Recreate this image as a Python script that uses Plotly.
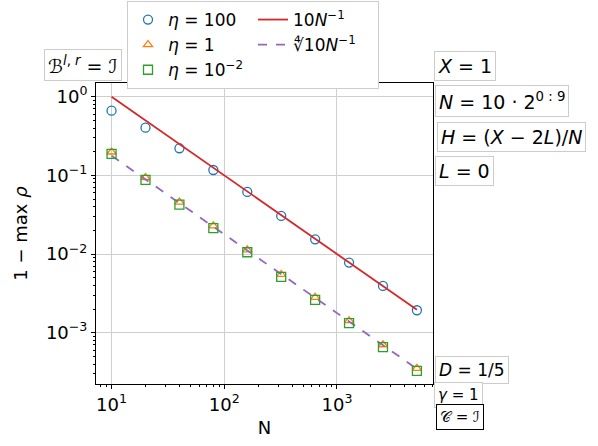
import plotly.graph_objects as go

N = [10, 20, 40, 80, 160, 320, 640, 1280, 2560, 5120]
eta100 = [0.664, 0.404, 0.221, 0.117, 0.0615, 0.0305, 0.0154, 0.00778, 0.00393, 0.00193]
eta1 = [0.198, 0.094, 0.0458, 0.0228, 0.0113, 0.0055, 0.00281, 0.00142, 0.000703, 0.000352]
eta001 = [0.187, 0.0875, 0.0424, 0.0213, 0.01054, 0.00512, 0.00261, 0.00132, 0.000654, 0.000327]
ref_a = [10.0 / n for n in N]
ref_b = [10 ** 0.25 / n for n in N]

xtick_vals = [10, 100, 1000]
xtick_text = ["10<sup>1</sup>", "10<sup>2</sup>", "10<sup>3</sup>"]
ytick_vals = [1, 0.1, 0.01, 0.001]
ytick_text = ["10<sup>0</sup>", "10<sup>−1</sup>", "10<sup>−2</sup>", "10<sup>−3</sup>"]

x_minor = [m * 10 ** k for k in range(0, 4) for m in range(2, 10)]
y_minor = [m * 10.0 ** k for k in range(-4, 1) for m in range(2, 10)]

FONT = "DejaVu Sans"
L, R, T, B = 96, 433, 83, 384
W, H = 598, 446

def px(x):
    return (x - L) / (R - L)

def py(y):
    return (B - y) / (B - T)

fig = go.Figure()
fig.add_trace(go.Scatter(x=N, y=eta100, mode="markers", name="<i>η</i> = 100",
                         marker=dict(symbol="circle-open", size=9, color="#1f77b4", line=dict(width=1.3))))
fig.add_trace(go.Scatter(x=N, y=ref_a, mode="lines", name="10<i>N</i><sup>−1</sup>",
                         line=dict(color="#d62728", width=1.8)))
fig.add_trace(go.Scatter(x=N, y=eta1, mode="markers", name="<i>η</i> = 1",
                         marker=dict(symbol="triangle-up-open", size=8, color="#ff7f0e", line=dict(width=1.3))))
fig.add_trace(go.Scatter(x=N, y=ref_b, mode="lines", name="∜10<i>N</i><sup>−1</sup>",
                         line=dict(color="#9467bd", width=1.8, dash="dash")))
fig.add_trace(go.Scatter(x=N, y=eta001, mode="markers", name="<i>η</i> = 10<sup>−2</sup>",
                         marker=dict(symbol="square-open", size=9, color="#2ca02c", line=dict(width=1.3))))

axis_common = dict(showline=True, linecolor="black", linewidth=1, mirror=True,
                   ticks="outside", ticklen=4, tickcolor="black",
                   showgrid=True, gridcolor="#cfcfcf", gridwidth=1, zeroline=False,
                   tickfont=dict(family=FONT, size=18, color="black"))

fig.update_xaxes(type="log", range=[0.862, 3.852], tickvals=xtick_vals, ticktext=xtick_text,
                 minor=dict(tickvals=x_minor, ticks="outside", ticklen=2, tickcolor="black", showgrid=False),
                 title=dict(text="N", font=dict(family=FONT, size=18, color="black"), standoff=7),
                 **axis_common)
fig.update_yaxes(type="log", range=[-3.652, 0.174], tickvals=ytick_vals, ticktext=ytick_text,
                 minor=dict(tickvals=y_minor, ticks="outside", ticklen=2, tickcolor="black", showgrid=False),
                 title=dict(text="1 − max <i>ρ</i>", font=dict(family=FONT, size=18, color="black"), standoff=13),
                 **axis_common)

def box(text, cx, cy, size=19, border="#cccccc"):
    fig.add_annotation(text=text, xref="paper", yref="paper", x=px(cx), y=py(cy),
                       xanchor="center", yanchor="middle", showarrow=False,
                       font=dict(family=FONT, size=size, color="black"),
                       bgcolor="white", bordercolor=border, borderwidth=1, borderpad=3)

box("ℬ<sup><i>l</i>, <i>r</i></sup> = ℐ", 82.5, 65)
box("<i>X</i> = 1", 464.5, 66)
box("<i>N</i> = 10 · 2<sup>0 : 9</sup>", 501.5, 100.5)
box("<i>H</i> = (<i>X</i> − 2<i>L</i>)/<i>N</i>", 511.5, 137)
box("<i>L</i> = 0", 464, 171)
box("<i>D</i> = 1/5", 472, 370, size=17)
box("<i>γ</i> = 1", 458.5, 395, size=15)
box("𝒞 = ℐ", 459.5, 417, size=15, border="black")

fig.update_layout(
    width=W, height=H,
    margin=dict(l=L, r=W - R, t=T, b=H - B, autoexpand=False),
    paper_bgcolor="white", plot_bgcolor="white",
    font=dict(family=FONT, size=16, color="black"),
    legend=dict(orientation="h", x=px(127), y=py(1), xanchor="left", yanchor="top",
                entrywidth=80, entrywidthmode="pixels",
                bgcolor="white", bordercolor="#cccccc", borderwidth=1,
                font=dict(family=FONT, size=17, color="black"),
                tracegroupgap=0, itemwidth=30),
    showlegend=True,
)

fig.write_html("out.html", config={"displayModeBar": False},
               post_script="document.body.style.margin='0px';document.body.style.overflow='hidden';")
